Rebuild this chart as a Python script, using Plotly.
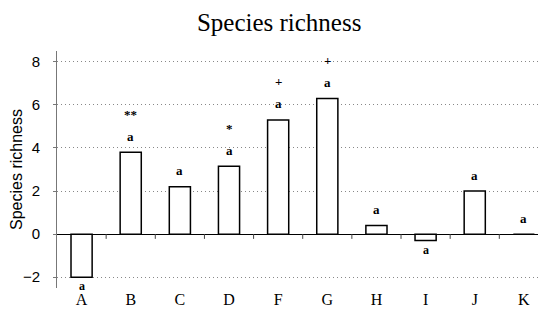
import plotly.graph_objects as go

categories = ["A", "B", "C", "D", "F", "G", "H", "I", "J", "K"]
richness = [-2.0, 3.8, 2.2, 3.15, 5.3, 6.3, 0.4, -0.3, 2.0, 0.0]
letters = ["a"] * 10
signif = ["", "**", "", "*", "+", "+", "", "", "", ""]
y_ticks = [-2, 0, 2, 4, 6, 8]

SERIF = "Liberation Serif, Times New Roman, serif"
NARROW = "Liberation Sans Narrow, Arial Narrow, Liberation Sans, sans-serif"
xpos = list(range(len(categories)))

fig = go.Figure()
fig.add_trace(go.Bar(
    x=xpos, y=richness, width=0.43,
    marker=dict(color="white", line=dict(color="black", width=1.5)),
    showlegend=False, hoverinfo="skip",
))
# small downward ticks on the zero line between categories
bounds = [i + 0.5 for i in xpos[:-1]]
fig.add_trace(go.Scatter(
    x=bounds, y=[0] * len(bounds), mode="markers",
    marker=dict(size=1, color="rgba(0,0,0,0)"),
    error_y=dict(type="data", symmetric=False, array=[0] * len(bounds),
                 arrayminus=[0.22] * len(bounds), width=0, thickness=1, color="#444"),
    showlegend=False, hoverinfo="skip",
))

annotations = []
for x, v, lab, sig in zip(xpos, richness, letters, signif):
    if v >= 0:
        annotations.append(dict(x=x, y=v, text=f"<b>{lab}</b>", showarrow=False,
                                yanchor="middle", yshift=16,
                                font=dict(family=SERIF, size=13, color="black")))
        if sig:
            annotations.append(dict(x=x, y=v, text=f"<b>{sig}</b>", showarrow=False,
                                    yanchor="middle", yshift=38,
                                    font=dict(family=SERIF, size=13, color="black")))
    else:
        annotations.append(dict(x=x, y=v, text=f"<b>{lab}</b>", showarrow=False,
                                yanchor="middle", yshift=-9, borderpad=0,
                                font=dict(family=SERIF, size=12, color="black")))

fig.update_layout(
    width=538, height=307,
    margin=dict(l=49, r=0, t=43, b=27, autoexpand=False),
    paper_bgcolor="white", plot_bgcolor="white",
    title=dict(text="Species richness", x=0.504, xref="container", xanchor="center",
               y=0.955, yref="container", yanchor="middle",
               font=dict(family=SERIF, size=25, color="black")),
    annotations=annotations,
    bargap=0.5,
)
fig.update_xaxes(
    range=[-0.5, 9.45], tickvals=xpos, ticktext=categories, automargin=False,
    showgrid=False, zeroline=False, showline=False, ticks="",
    tickfont=dict(family=SERIF, size=16, color="black"),
)
fig.update_yaxes(
    range=[-2.5, 8.5], tickvals=y_ticks, automargin=False,
    showgrid=True, gridcolor="#888", griddash="1px,3px", gridwidth=1,
    zeroline=True, zerolinecolor="black", zerolinewidth=1.2,
    showline=True, linecolor="#777", linewidth=1,
    ticks="outside", ticklen=3, tickcolor="#777", ticklabelstandoff=10,
    tickfont=dict(family=NARROW, size=15, color="black"),
    title=dict(text="Species richness", font=dict(family=NARROW, size=16, color="black"),
               standoff=5),
)

fig.write_html("out.html")
